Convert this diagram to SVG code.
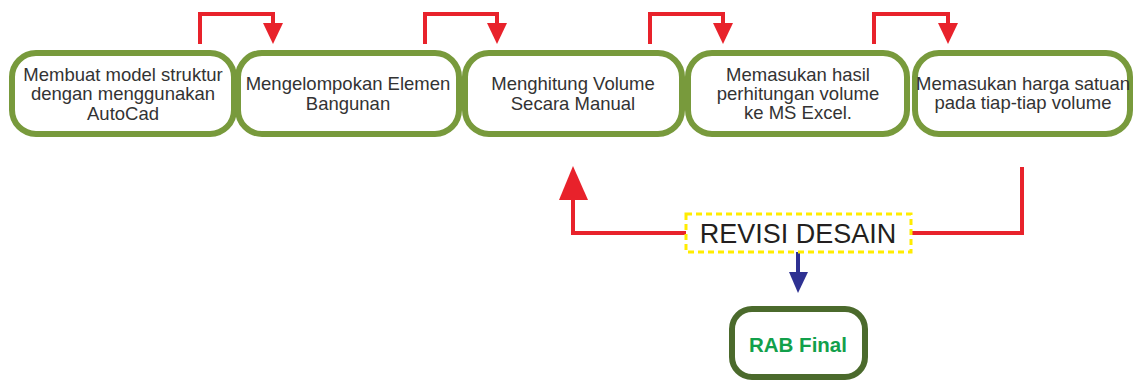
<svg xmlns="http://www.w3.org/2000/svg" width="1134" height="383" viewBox="0 0 1134 383">
<defs>
<style>
.box{fill:#fff;stroke:#789a3c;stroke-width:6}
.final{fill:#fff;stroke:#4b6a2c;stroke-width:6}
.t{font-family:"Liberation Sans",Arial,sans-serif;font-size:18.5px;fill:#333;text-anchor:middle}
.red{fill:none;stroke:#e8222b;stroke-width:4}
.redh{fill:#e8222b}
.blue{fill:none;stroke:#2e3192;stroke-width:4}
</style>
</defs>
<g id="connectors">
<path class="red" d="M200,44 V14 H273 V26"/><polygon class="redh" points="263,23 283,23 273,44"/>
<path class="red" d="M425,44 V14 H497 V26"/><polygon class="redh" points="487,23 507,23 497,44"/>
<path class="red" d="M650,44 V14 H723 V26"/><polygon class="redh" points="713,23 733,23 723,44"/>
<path class="red" d="M874,44 V14 H948 V26"/><polygon class="redh" points="938,23 958,23 948,44"/>
<path class="red" d="M1022,167 V233 H912"/>
<path class="red" d="M686,233 H573 V196"/><polygon class="redh" points="559,200 588,200 573,166"/>
<path class="blue" d="M798,252 V275"/><polygon fill="#2e3192" points="789,272 808,272 798,293"/>
</g>
<g id="n1"><rect class="box" x="12" y="53" width="222" height="81" rx="24"/>
<text class="t" x="123" y="81">Membuat model struktur</text><text class="t" x="123" y="100">dengan menggunakan</text><text class="t" x="123" y="120">AutoCad</text></g>
<g id="n2"><rect class="box" x="238" y="53" width="221" height="81" rx="24"/>
<text class="t" x="348" y="90">Mengelompokan Elemen</text><text class="t" x="348" y="110">Bangunan</text></g>
<g id="n3"><rect class="box" x="465" y="53" width="217" height="81" rx="24"/>
<text class="t" x="573" y="90">Menghitung Volume</text><text class="t" x="573" y="110">Secara Manual</text></g>
<g id="n4"><rect class="box" x="688" y="53" width="219" height="81" rx="24"/>
<text class="t" x="798" y="81">Memasukan hasil</text><text class="t" x="798" y="100">perhitungan volume</text><text class="t" x="798" y="119">ke MS Excel.</text></g>
<g id="n5"><rect class="box" x="915" y="53" width="215" height="81" rx="24"/>
<text class="t" x="1023" y="90">Memasukan harga satuan</text><text class="t" x="1023" y="109">pada tiap-tiap volume</text></g>
<g id="revisi"><rect x="686" y="214" width="225" height="38" fill="#fff" stroke="#ffec00" stroke-width="3" stroke-dasharray="6,4"/>
<text x="798" y="243" font-family="'Liberation Sans',Arial,sans-serif" font-size="27" fill="#231f20" text-anchor="middle">REVISI DESAIN</text></g>
<g id="final"><rect class="final" x="732" y="309" width="133" height="68" rx="20"/>
<text x="798" y="352" font-family="'Liberation Sans',Arial,sans-serif" font-size="20.5" font-weight="bold" fill="#12a04b" text-anchor="middle">RAB Final</text></g>
</svg>
